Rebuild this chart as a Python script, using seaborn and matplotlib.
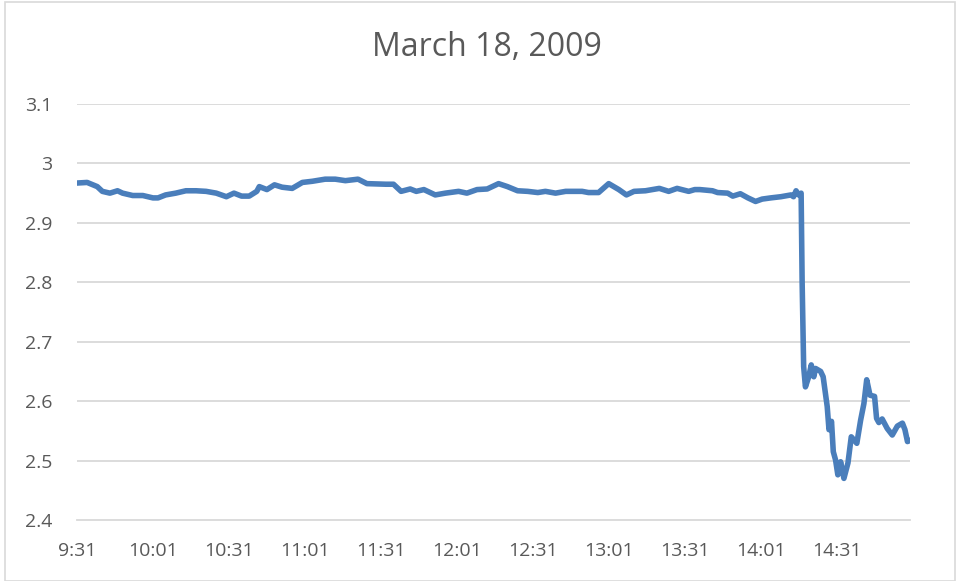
import numpy as np
import pandas as pd
import matplotlib
matplotlib.use("Agg")
import matplotlib.pyplot as plt
import seaborn as sns

# minutes after 9:31 and the price read at each of them
minutes = [0, 4, 8, 10, 13, 16, 18, 22, 26, 30, 32, 35, 39, 43, 47, 51, 55, 59,
           62, 65, 68, 71, 72, 75, 78, 81, 85, 89, 93, 98, 102, 106, 111, 114.5,
           122, 125, 128, 131.6, 134, 137, 141.5, 145.5, 150.7, 154, 158, 162,
           166.5, 170, 174, 178, 182, 185, 189, 193, 199.5, 202, 206, 210, 214,
           217, 220, 224.5, 230, 233.7, 237, 241.6, 244, 246, 251, 253, 257, 259,
           262, 265, 268, 270.6, 274, 278, 282, 283, 284, 285, 286, 286.4, 287,
           287.7, 289, 290, 291, 291.7, 293.7, 294.7, 296.3, 297, 298, 298.7,
           299.6, 300.5, 301.6, 302.9, 304.5, 305.8, 308, 309.5, 310.8, 311.9,
           313.2, 315, 315.8, 316.7, 318, 320, 322, 324, 326, 327, 328, 329]
prices = [2.967, 2.968, 2.961, 2.953, 2.950, 2.954, 2.950, 2.946, 2.946, 2.942,
          2.942, 2.947, 2.950, 2.954, 2.954, 2.953, 2.950, 2.944,
          2.950, 2.945, 2.945, 2.953, 2.961, 2.956, 2.964, 2.960, 2.958, 2.968,
          2.970, 2.9735, 2.9735, 2.971, 2.9735, 2.966,
          2.965, 2.965, 2.953, 2.957, 2.953, 2.956, 2.947, 2.950, 2.953, 2.950,
          2.956, 2.957, 2.966, 2.961, 2.954, 2.953, 2.951, 2.953, 2.950, 2.953,
          2.953, 2.951, 2.951, 2.966, 2.956, 2.947, 2.953, 2.954, 2.958, 2.953,
          2.958, 2.953, 2.956, 2.956, 2.954, 2.951, 2.950, 2.945, 2.949, 2.942,
          2.936, 2.940, 2.942, 2.944, 2.947, 2.944, 2.954, 2.947, 2.950, 2.800,
          2.658, 2.624, 2.641, 2.661, 2.641, 2.655, 2.650, 2.641, 2.591, 2.552,
          2.566, 2.515, 2.501, 2.476, 2.498, 2.470, 2.496, 2.540, 2.529, 2.568,
          2.596, 2.636, 2.610, 2.608, 2.571, 2.564, 2.570, 2.554, 2.543, 2.558,
          2.563, 2.552, 2.532, 2.534]

tick_pos = [0, 30, 60, 90, 120, 150, 180, 210, 240, 270, 300, 329]
tick_labels = ["9:31", "10:01", "10:31", "11:01", "11:31", "12:01", "12:31",
               "13:01", "13:31", "14:01", "14:31", ""]
y_ticks = [2.4, 2.5, 2.6, 2.7, 2.8, 2.9, 3.0, 3.1]
y_labels = ["2.4", "2.5", "2.6", "2.7", "2.8", "2.9", "3", "3.1"]

df = pd.DataFrame({"minute": minutes, "price": prices})

sns.set_style("white")
plt.rcParams["font.family"] = ["Open Sans", "DejaVu Sans"]

fig = plt.figure(figsize=(9.56, 5.81), dpi=100)
ax = fig.add_axes([77 / 956, 1 - 520 / 581, (910 - 77) / 956, (520 - 104) / 581])

grid_c = "#d9d9d9"
text_c = "#595959"

for v in y_ticks[1:]:
    ax.axhline(v, color=grid_c, linewidth=1.3, zorder=0)

sns.lineplot(data=df, x="minute", y="price", ax=ax, color="#4a7ebb",
             linewidth=4.0, solid_capstyle="round", solid_joinstyle="round",
             zorder=3)

ax.set_xlim(0, 329)
ax.set_ylim(2.4, 3.1)
ax.set_xticks(tick_pos)
ax.set_xticklabels(tick_labels)
ax.set_yticks(y_ticks)
ax.set_yticklabels(y_labels)
ax.set_xlabel("")
ax.set_ylabel("")

for s in ["top", "right", "left"]:
    ax.spines[s].set_visible(False)
ax.spines["bottom"].set_color(grid_c)
ax.spines["bottom"].set_linewidth(1.3)

ax.tick_params(axis="x", direction="inout", length=14, width=1.3, color=grid_c,
               labelsize=14, labelcolor=text_c, pad=9)
ax.tick_params(axis="y", length=0, labelsize=14, labelcolor=text_c, pad=18)

fig.text(0.509, 1 - 48 / 581, "March 18, 2009", ha="center", va="center",
         fontsize=23, color=text_c)

border = plt.Rectangle((5 / 956, 0.5 / 581), 950 / 956, 579 / 581,
                       transform=fig.transFigure, fill=False,
                       edgecolor=grid_c, linewidth=1.2)
fig.patches.append(border)

fig.savefig("out.png", dpi=100)
